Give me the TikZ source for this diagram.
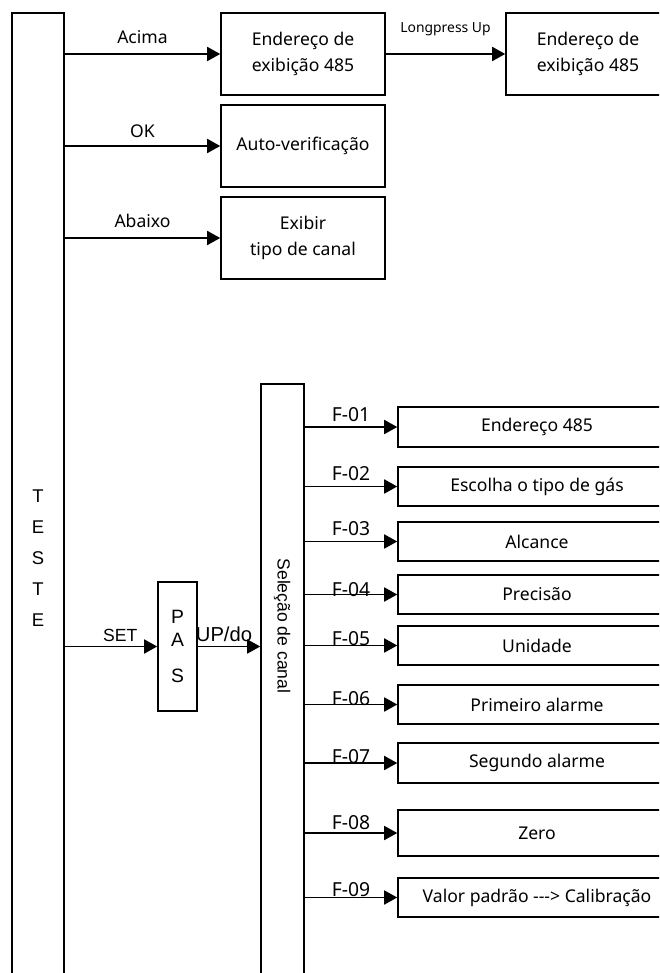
\documentclass[tikz,border=0pt]{standalone}
\usepackage{fontspec}
\setmainfont{Noto Sans}
\newfontfamily\arialfont{Liberation Sans}
\usepackage{tikz}
\usetikzlibrary{arrows.meta, positioning, calc}

\begin{document}
\begin{tikzpicture}[
  x=0.02cm, y=-0.02cm,
  box/.style={draw, line width=0.9pt, minimum width=3.28cm, minimum height=1.64cm, align=center, inner sep=0pt, font=\fontsize{10}{15}\selectfont},
  fbox/.style={draw, line width=0.9pt, minimum width=5.56cm, minimum height=0.78cm, inner sep=0pt, font=\fontsize{10}{12}\selectfont},
  col/.style={draw, line width=0.9pt, inner sep=0pt, align=center},
  arr/.style={-{Triangle[length=0.26cm, width=0.28cm]}, line width=0.9pt},
  lbl/.style={anchor=base, inner sep=0pt, font=\fontsize{10}{12}\selectfont},
  flbl/.style={anchor=south, inner sep=0pt, font=\fontsize{11}{13}\selectfont}
]
  \useasboundingbox (0,0) rectangle (659,973);
  \clip (0,0) rectangle (659,973);

  % Test column
  \node[col, minimum width=1.04cm, minimum height=21.8cm, font=\arialfont\fontsize{10.5}{17.6}\selectfont] (teste) at (38,558) {T\\E\\S\\T\\E};

  % Top menu
  \node[box] (addr) at (303,54) {Endereço de\\exibição 485};
  \node[box] (addrlong) at (588,54) {Endereço de\\exibição 485};
  \node[box] (selfcheck) at (303,146) {Auto-verificação};
  \node[box] (chantype) at (303,238) {Exibir\\tipo de canal};

  \draw[arr] (teste.east |- addr.west) -- node[lbl, yshift=6pt] {Acima} (addr.west);
  \draw[arr] (addr.east) -- node[lbl, yshift=12.5pt, font=\fontsize{7.9}{9}\selectfont] {Longpress Up} (addrlong.west);
  \draw[arr] (teste.east |- selfcheck.west) -- node[lbl, yshift=5pt] {OK} (selfcheck.west);
  \draw[arr] (teste.east |- chantype.west) -- node[lbl, yshift=5.7pt] {Abaixo} (chantype.west);

  % Password and channel selection
  \node[col, minimum width=0.78cm, minimum height=2.58cm, font=\arialfont\fontsize{11}{13}\selectfont] (pas) at (177.5,646.5) {P\\A\\[8pt]S};
  \node[col, minimum width=0.86cm, minimum height=12.32cm] (sel) at (282.5,692) {};
  \node[rotate=-90, font=\arialfont\fontsize{10}{12}\selectfont] (seltext) at (282,626) {Seleção de canal};

  \draw[arr] (teste.east |- pas.west) -- node[lbl, pos=0.6, yshift=3.1pt, font=\arialfont\fontsize{10}{12}\selectfont] {SET} (pas.west);
  \draw[arr] (pas.east) -- node[lbl, pos=0.42, yshift=3.1pt, font=\arialfont\fontsize{11.5}{13}\selectfont] {UP/do} (sel.west |- pas.east);

  % Function list
  \node[fbox, minimum height=0.8cm] (f1) at (537,427) {Endereço 485};
  \node[fbox] (f2) at (537,486.5) {Escolha o tipo de gás};
  \node[fbox] (f3) at (537,541.5) {Alcance};
  \node[fbox] (f4) at (537,594.5) {Precisão};
  \node[fbox] (f5) at (537,645.5) {Unidade};
  \node[fbox] (f6) at (537,704.5) {Primeiro alarme};
  \node[fbox, minimum height=0.8cm] (f7) at (537,763) {Segundo alarme};
  \node[fbox, minimum height=0.92cm] (f8) at (537,833) {Zero};
  \node[fbox] (f9) at (537,897.5) {Valor padrão -{}-{}-> Calibração};

  \draw[arr] (sel.east |- f1.west) -- node[flbl, yshift=2.8pt] {F-01} (f1.west);
  \draw[arr] (sel.east |- f2.west) -- node[flbl, yshift=2.8pt] {F-02} (f2.west);
  \draw[arr] (sel.east |- f3.west) -- node[flbl, yshift=2.8pt] {F-03} (f3.west);
  \draw[arr] (sel.east |- f4.west) -- node[flbl, yshift=-1.7pt] {F-04} (f4.west);
  \draw[arr] (sel.east |- f5.west) -- node[flbl, yshift=-0.6pt] {F-05} (f5.west);
  \draw[arr] (sel.east |- f6.west) -- node[flbl, yshift=-1.1pt] {F-06} (f6.west);
  \draw[arr] (sel.east |- f7.west) -- node[flbl, yshift=-1.1pt] {F-07} (f7.west);
  \draw[arr] (sel.east |- f8.west) -- node[flbl, yshift=1.7pt] {F-08} (f8.west);
  \draw[arr] (sel.east |- f9.west) -- node[flbl] {F-09} (f9.west);

\end{tikzpicture}
\end{document}
